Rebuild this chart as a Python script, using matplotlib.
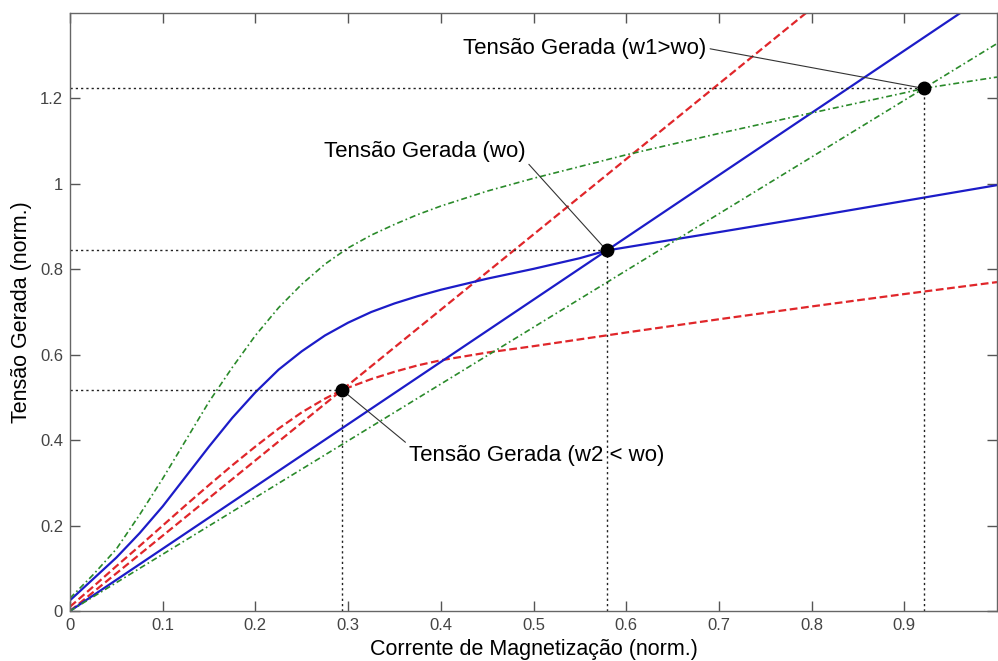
"""Self-excitation of a shunt DC generator at three speeds."""

import matplotlib.pyplot as plt
import numpy as np

plt.rcParams["font.family"] = ["Liberation Sans", "DejaVu Sans"]

# magnetization curves (generated voltage vs field current), one per speed
x_w2 = [0.0, 0.025, 0.05, 0.075, 0.10, 0.125, 0.15, 0.175, 0.20, 0.225, 0.25,
        0.275, 0.2935, 0.325, 0.35, 0.375, 0.40, 0.45, 0.50, 0.60, 0.70, 0.80,
        0.90, 1.00]
v_w2 = [0.010, 0.057, 0.105, 0.152, 0.200, 0.248, 0.295, 0.341, 0.385, 0.427, 0.465,
        0.497, 0.5175, 0.543, 0.560, 0.575, 0.587, 0.605, 0.620, 0.652, 0.683, 0.713,
        0.742, 0.770]

x_wo = [0.0, 0.025, 0.05, 0.075, 0.10, 0.125, 0.15, 0.175, 0.20, 0.225, 0.25,
        0.275, 0.30, 0.325, 0.35, 0.375, 0.40, 0.45, 0.50, 0.55, 0.579, 0.70,
        0.80, 0.90, 1.00]
v_wo = [0.025, 0.075, 0.125, 0.182, 0.245, 0.315, 0.385, 0.452, 0.512, 0.565, 0.608,
        0.645, 0.675, 0.700, 0.720, 0.737, 0.752, 0.778, 0.801, 0.826, 0.844, 0.887,
        0.923, 0.960, 0.997]

x_w1 = [0.0, 0.025, 0.05, 0.075, 0.10, 0.125, 0.15, 0.175, 0.20, 0.225, 0.25,
        0.275, 0.30, 0.325, 0.35, 0.375, 0.40, 0.45, 0.50, 0.60, 0.70, 0.80,
        0.90, 0.921, 1.00]
v_w1 = [0.030, 0.085, 0.145, 0.225, 0.310, 0.400, 0.490, 0.570, 0.645, 0.710, 0.765,
        0.812, 0.850, 0.880, 0.905, 0.928, 0.948, 0.983, 1.013, 1.068, 1.118, 1.166,
        1.213, 1.2235, 1.250]

# operating points (field current, voltage) for w2 < wo, wo, w1 > wo
op_x = [0.2935, 0.579, 0.921]
op_v = [0.5175, 0.844, 1.2235]

labels = ["Tensão Gerada (w2 < wo)", "Tensão Gerada (wo)", "Tensão Gerada (w1>wo)"]

x_ticks = [0, 0.1, 0.2, 0.3, 0.4, 0.5, 0.6, 0.7, 0.8, 0.9]
y_ticks = [0, 0.2, 0.4, 0.6, 0.8, 1.0, 1.2]

blue = "#1c1cc8"
red = "#e0262a"
green = "#2a8a2a"
dash = (0, (3.5, 1.6))
dashdot = (0, (3.6, 1.8, 1.0, 1.8))

fig = plt.figure(figsize=(9.98, 6.61), dpi=100)
ax = fig.add_axes([70 / 998, 50 / 661, 927 / 998, 598 / 661])

curves = [
    (x_w2, v_w2, red, dash, 1.6),
    (x_wo, v_wo, blue, "-", 1.6),
    (x_w1, v_w1, green, dashdot, 1.2),
]
x_line = np.array([0.0, 1.0])
for (cx, cy, color, ls, lw), px, py in zip(curves, op_x, op_v):
    ax.plot(cx, cy, color=color, linestyle=ls, linewidth=lw)
    # field resistance line through the origin and the operating point
    ax.plot(x_line, x_line * py / px, color=color, linestyle=ls, linewidth=lw)

for px, py in zip(op_x, op_v):
    ax.plot([0, px], [py, py], color="#222222", linestyle=(0, (1.6, 2.2)), linewidth=1.0)
    ax.plot([px, px], [0, py], color="#222222", linestyle=(0, (1.6, 2.2)), linewidth=1.0)

ax.plot(op_x, op_v, "o", color="black", markersize=9, zorder=5)

arrow = dict(arrowstyle="-", color="#333333", linewidth=0.8, shrinkA=1, shrinkB=0)
ax.annotate(labels[0], xy=(op_x[0], op_v[0]), xytext=(0.366, 0.363),
            ha="left", va="center", fontsize=16,
            arrowprops=dict(arrow, relpos=(0, 1)))
ax.annotate(labels[1], xy=(op_x[1], op_v[1]), xytext=(0.491, 1.075),
            ha="right", va="center", fontsize=16,
            arrowprops=dict(arrow, relpos=(1, 0.1)))
ax.annotate(labels[2], xy=(op_x[2], op_v[2]), xytext=(0.686, 1.318),
            ha="right", va="center", fontsize=16,
            arrowprops=dict(arrow, relpos=(1, 0.5)))

ax.set_xlim(0, 1)
ax.set_ylim(0, 1.4)
ax.set_xticks(x_ticks, labels=[f"{t:g}" for t in x_ticks])
ax.set_yticks(y_ticks, labels=[f"{t:g}" for t in y_ticks])
ax.tick_params(direction="in", length=7, width=1, colors="#555555",
               labelcolor="#444444", labelsize=12, pad=5,
               top=True, right=True)
for spine in ax.spines.values():
    spine.set_color("#666666")
    spine.set_linewidth(1)

ax.set_xlabel("Corrente de Magnetização (norm.)", fontsize=15.5, labelpad=4)
ax.set_ylabel("Tensão Gerada (norm.)", fontsize=15.5, labelpad=6)

fig.savefig("out.png", dpi=100)
plt.close(fig)
